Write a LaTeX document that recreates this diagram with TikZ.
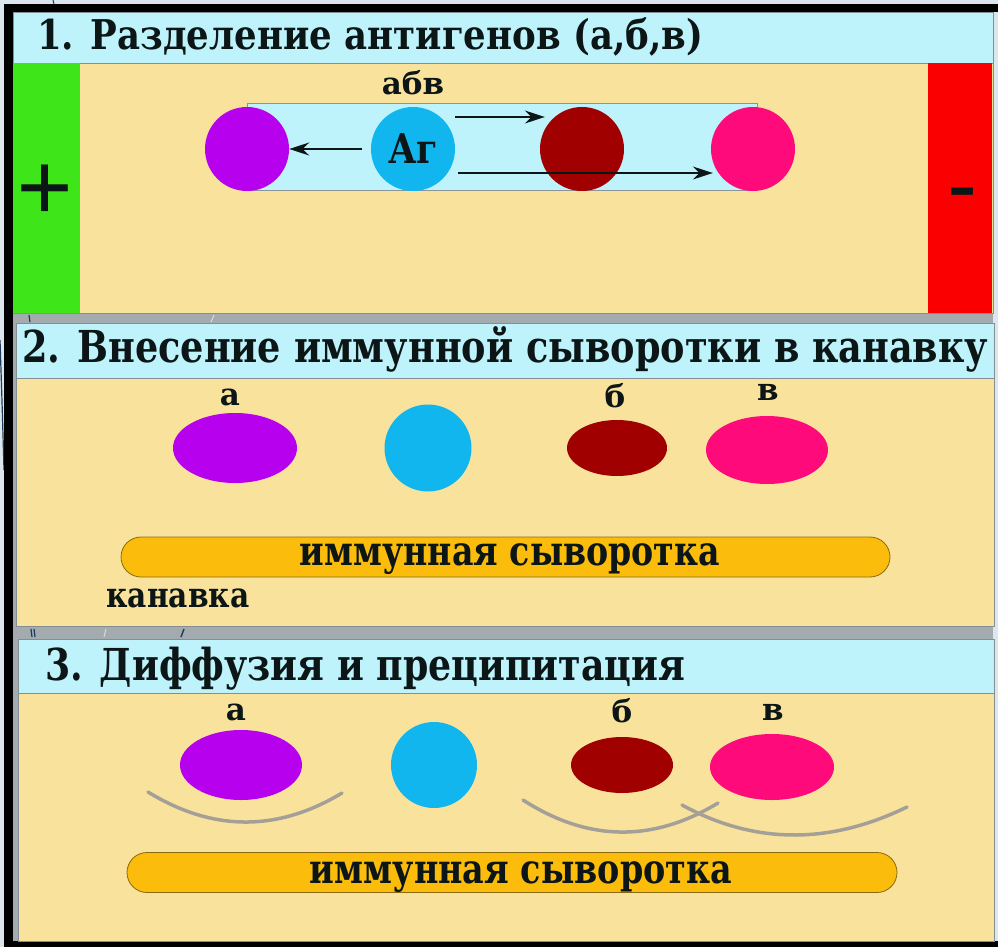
\documentclass[tikz,border=0pt]{standalone}
\usepackage{fontspec}
\usepackage{graphicx}
\setmainfont{DejaVu Serif}
\newfontfamily\signfont{Liberation Serif}
\usetikzlibrary{arrows.meta,calc,shapes.geometric}

\definecolor{hdr}{HTML}{BFF3FB}
\definecolor{bodyfill}{HTML}{F9E39C}
\definecolor{gapgray}{HTML}{A3ABAF}
\definecolor{frameline}{HTML}{858E92}
\definecolor{ink}{HTML}{0C1616}
\definecolor{agA}{HTML}{B600EE}
\definecolor{agB}{HTML}{A10000}
\definecolor{agC}{HTML}{FF0A7B}
\definecolor{agBlue}{HTML}{12B6EF}
\definecolor{serum}{HTML}{FBBC0C}
\definecolor{serumline}{HTML}{8A6A10}
\definecolor{arcgray}{HTML}{A5A097}
\definecolor{anodecol}{HTML}{3EE619}
\definecolor{cathodecol}{HTML}{FA0000}
\definecolor{slide}{HTML}{DCE7ED}
\definecolor{navy}{HTML}{1E3A5A}
\definecolor{bandline}{HTML}{8E9496}

\tikzset{
  panelhead/.style={fill=hdr, draw=frameline, line width=0.8pt},
  panelbody/.style={fill=bodyfill, draw=frameline, line width=0.8pt},
  spot/.style={circle, inner sep=0pt, minimum size=84pt},
  oval/.style={ellipse, inner sep=0pt},
  lbl/.style={text=ink, inner sep=0pt, anchor=base, font=\fontsize{31pt}{31pt}\selectfont\bfseries},
  title/.style={text=ink, inner sep=0pt, anchor=base west},
  migr/.style={draw=ink, line width=1.8pt, -{Stealth[length=20pt,width=13pt]}},
  serumbar/.style={fill=serum, draw=serumline, line width=0.8pt, rounded corners=20pt,
                   minimum height=40pt, inner sep=0pt},
  precip/.style={draw=arcgray, line width=3.5pt, line cap=round},
}

\begin{document}
\begin{tikzpicture}[x=1pt,y=-1pt]
\useasboundingbox (0,0) rectangle (998,947);
\fill[slide] (0,0) rectangle (998,947);

% streaks of the slide background
\draw[navy, line width=1.2pt] (0,340) .. controls (2,400) .. (4,470);
\draw[navy, line width=1pt] (53,0) -- (54,4);

% black frame and gray gutter
\fill[black] (4,4) rectangle (998,12);
\fill[black] (4,4) rectangle (13,947);
\fill[black] (4,941) rectangle (998,947);
\fill[gapgray] (13,12) rectangle (993,941);

% small marks showing through the gutters
\draw[navy, line width=1.2pt] (29,315) -- (30,322);
\draw[white!70!gray, line width=1pt] (214,315) -- (211,322);
\draw[navy, line width=1.2pt] (31,629) -- (32,637);
\draw[navy, line width=1.2pt] (34,629) -- (35,637);
\draw[white!70!gray, line width=1pt] (106,629) -- (104,637);
\draw[navy, line width=1.4pt] (184,629) -- (181,637);

% ---------------- panel 1 ----------------
\path[panelhead] (13,12) rectangle (993,63);
\path[panelbody] (13,63) rectangle (993,313);
\fill[anodecol] (13,63) rectangle (80,313);
\fill[cathodecol] (928,63) rectangle (992,313);
\node[title] (t1) at (37,50)
  {\resizebox{666pt}{\height}{\fontsize{41pt}{41pt}\selectfont\bfseries 1. Разделение антигенов (а,б,в)}};
\node[text=ink, inner sep=0pt] (plus) at (45,193)
  {\signfont\fontsize{100pt}{100pt}\selectfont\bfseries +};
\node[text=ink, inner sep=0pt] (minus) at (962,200)
  {\signfont\fontsize{84pt}{84pt}\selectfont\bfseries -};

% separation track
\filldraw[fill=hdr, draw=bandline, line width=1pt] (247,104) rectangle (757,190);

\node[spot, fill=agA] (s1a) at (247,149) {};
\node[spot, fill=agBlue] (s1ag) at (413,149)
  {\resizebox{50pt}{\height}{\fontsize{41pt}{41pt}\selectfont\bfseries\color{ink}Аг}};
\node[spot, fill=agB] (s1b) at (582,149) {};
\node[spot, fill=agC] (s1c) at (753,149) {};
\node[lbl] (abv) at (413,95) {абв};

\draw[migr] ([xshift=-9pt]s1ag.west) -- (s1a.east);
\draw[migr] ($(s1ag.east)+(0,-32)$) -- ($(s1b.west)+(5,-32)$);
\draw[migr] ($(s1ag.east)+(3,24)$) -- ($(s1c.west)+(2,24)$);

% ---------------- panel 2 ----------------
\path[panelhead] (16,323) rectangle (994,378);
\path[panelbody] (16,378) rectangle (994,626);
\node[title] (t2) at (22,362)
  {\resizebox{966pt}{\height}{\fontsize{44pt}{44pt}\selectfont\bfseries 2. Внесение иммунной сыворотки в канавку}};

\node[oval, fill=agA, minimum width=124pt, minimum height=70pt] (s2a) at (235,448) {};
\node[spot, fill=agBlue, minimum size=87pt] (s2ag) at (428,448) {};
\node[oval, fill=agB, minimum width=100pt, minimum height=56pt] (s2b) at (617,448) {};
\node[oval, fill=agC, minimum width=122pt, minimum height=68pt] (s2c) at (767,450) {};
\node[lbl] (l2a) at (230,405) {а};
\node[lbl] (l2b) at (615,407) {б};
\node[lbl] (l2c) at (768,400) {в};

\node[serumbar, minimum width=769pt] (bar2) at (505.5,557) {};
\node[title, anchor=base] (sr2) at (510,565)
  {\resizebox{420pt}{\height}{\fontsize{41pt}{41pt}\selectfont\bfseries иммунная сыворотка}};
\node[lbl] (groove) at (178,607)
  {\resizebox{143pt}{\height}{\fontsize{35pt}{35pt}\selectfont канавка}};

% ---------------- panel 3 ----------------
\path[panelhead] (18,639) rectangle (994,693);
\path[panelbody] (18,693) rectangle (994,941);
\node[title] (t3) at (45,680)
  {\resizebox{640pt}{\height}{\fontsize{44pt}{44pt}\selectfont\bfseries 3. Диффузия и преципитация}};

\node[oval, fill=agA, minimum width=122pt, minimum height=70pt] (s3a) at (241,765) {};
\node[spot, fill=agBlue, minimum size=86pt] (s3ag) at (434,765) {};
\node[oval, fill=agB, minimum width=102pt, minimum height=56pt] (s3b) at (622,765) {};
\node[oval, fill=agC, minimum width=124pt, minimum height=66pt] (s3c) at (772,767) {};
\node[lbl] (l3a) at (236,720) {а};
\node[lbl] (l3b) at (622,722) {б};
\node[lbl] (l3c) at (773,720) {в};

% precipitation lines
\draw[precip] (148,792) .. controls (212.7,831.7) and (277.3,832) .. (342,793);
\draw[precip] (523,800) .. controls (587.7,841.7) and (652.7,842.7) .. (718,803);
\draw[precip] (682,805) .. controls (754,844.3) and (829,845) .. (907,807);

\node[serumbar, minimum width=770pt] (bar3) at (512,872.5) {};
\node[title, anchor=base] (sr3) at (521,883)
  {\resizebox{422pt}{\height}{\fontsize{41pt}{41pt}\selectfont\bfseries иммунная сыворотка}};
\end{tikzpicture}
\end{document}
